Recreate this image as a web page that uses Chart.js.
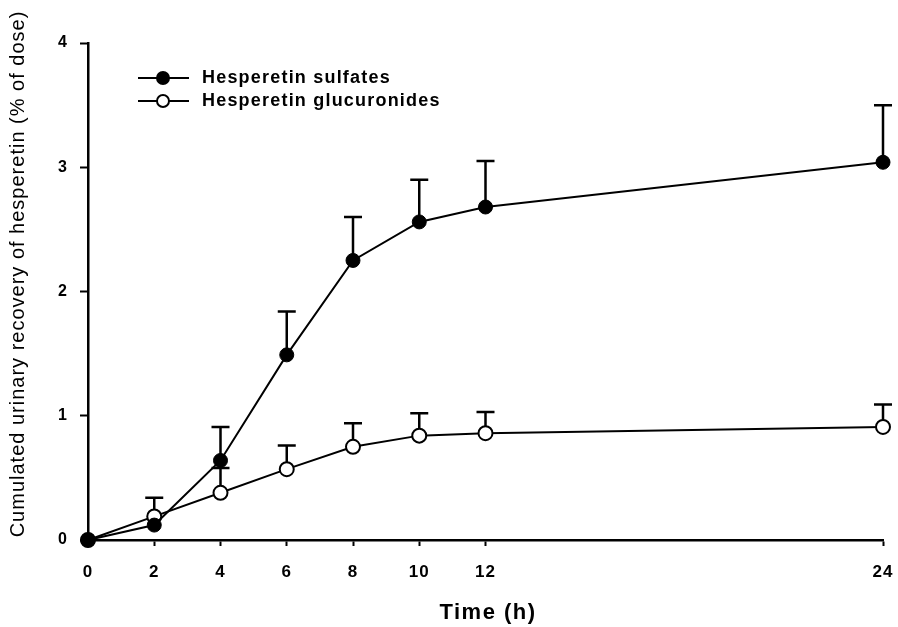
<!DOCTYPE html>
<html>
<head>
<meta charset="utf-8">
<script src="https://cdn.jsdelivr.net/npm/chart.js@4"></script>
<style>
  html, body { margin: 0; padding: 0; background: #fff; }
  #wrap { width: 898px; height: 627px; }
</style>
</head>
<body>
<div id="wrap"><canvas id="grafico" width="898" height="627"></canvas></div>
<script>
// time points (h)
const tempos = [0, 2, 4, 6, 8, 10, 12, 24];
const xTicks = [0, 2, 4, 6, 8, 10, 12, 24];
const yTicks = [0, 1, 2, 3, 4];

// mean values and upper SD limits
const sulfatos = [0, 0.12, 0.64, 1.49, 2.25, 2.56, 2.68, 3.04];
const sulfatosSD = [0, 0, 0.27, 0.35, 0.35, 0.34, 0.37, 0.46];
const glucuronideos = [0, 0.19, 0.38, 0.57, 0.75, 0.84, 0.86, 0.91];
const glucuronideosSD = [0, 0.15, 0.20, 0.19, 0.19, 0.18, 0.17, 0.18];

const tituloX = "Time (h)";
const tituloY = "Cumulated urinary recovery of hesperetin (% of dose)";

const fonte = "'Liberation Sans', Arial, sans-serif";

const espacamento = {
  id: "espacamento",
  beforeDraw(chart) {
    chart.ctx.letterSpacing = "1px";
  }
};

const errorBars = {
  id: "errorBars",
  beforeDatasetsDraw(chart) {
    const ctx = chart.ctx;
    const y = chart.scales.y;
    ctx.save();
    ctx.strokeStyle = "#000";
    ctx.lineWidth = 2.5;
    chart.data.datasets.forEach((ds, i) => {
      const meta = chart.getDatasetMeta(i);
      meta.data.forEach((pt, j) => {
        const sd = ds.sd[j];
        if (!sd) return;
        const yTop = y.getPixelForValue(ds.data[j].y + sd);
        ctx.beginPath();
        ctx.moveTo(pt.x, pt.y);
        ctx.lineTo(pt.x, yTop);
        ctx.moveTo(pt.x - 9, yTop);
        ctx.lineTo(pt.x + 9, yTop);
        ctx.stroke();
      });
    });
    ctx.restore();
  }
};

const textos = {
  id: "textos",
  afterDraw(chart) {
    const ctx = chart.ctx;
    ctx.save();
    ctx.fillStyle = "#000";
    ctx.letterSpacing = "1.2px";

    // legend inside the plot
    chart.data.datasets.forEach((ds, i) => {
      const yy = 78 + i * 23;
      ctx.strokeStyle = "#000";
      ctx.lineWidth = 2;
      ctx.beginPath();
      ctx.moveTo(138, yy);
      ctx.lineTo(189, yy);
      ctx.stroke();
      ctx.beginPath();
      ctx.arc(163, yy, 6, 0, Math.PI * 2);
      ctx.fillStyle = ds.pointBackgroundColor;
      ctx.fill();
      ctx.stroke();
      ctx.fillStyle = "#000";
      ctx.font = "bold 18px " + fonte;
      ctx.textBaseline = "middle";
      ctx.textAlign = "left";
      ctx.fillText(ds.label, 202, yy);
    });

    // x title
    ctx.letterSpacing = "1.5px";
    ctx.font = "bold 22px " + fonte;
    ctx.textAlign = "center";
    ctx.textBaseline = "middle";
    ctx.fillText(tituloX, 488, 613);

    // y title
    ctx.letterSpacing = "1px";
    ctx.font = "20px " + fonte;
    ctx.translate(18, 274);
    ctx.rotate(-Math.PI / 2);
    ctx.fillText(tituloY, 0, 0);
    ctx.restore();
  }
};

new Chart(document.getElementById("grafico").getContext("2d"), {
  type: "line",
  data: {
    datasets: [
      {
        label: "Hesperetin sulfates",
        data: tempos.map((t, i) => ({ x: t, y: sulfatos[i] })),
        sd: sulfatosSD,
        borderColor: "#000",
        borderWidth: 2,
        pointRadius: 7,
        pointBackgroundColor: "#000",
        pointBorderColor: "#000",
        pointBorderWidth: 1,
        tension: 0,
        clip: false
      },
      {
        label: "Hesperetin glucuronides",
        data: tempos.map((t, i) => ({ x: t, y: glucuronideos[i] })),
        sd: glucuronideosSD,
        borderColor: "#000",
        borderWidth: 2,
        pointRadius: 7,
        pointBackgroundColor: "#fff",
        pointBorderColor: "#000",
        pointBorderWidth: 2,
        tension: 0,
        clip: false
      }
    ]
  },
  options: {
    responsive: false,
    animation: false,
    layout: { padding: { top: 43, right: 15, left: 0, bottom: 0 } },
    plugins: {
      legend: { display: false },
      tooltip: { enabled: false }
    },
    scales: {
      x: {
        type: "linear",
        min: 0,
        max: 24,
        afterBuildTicks: axis => { axis.ticks = xTicks.map(v => ({ value: v })); },
        afterFit: axis => {
          axis.height = 87;
          axis.paddingRight = 0;
          axis.paddingLeft = 0;
        },
        grid: { drawOnChartArea: false, color: "#000", tickLength: 6, tickWidth: 2 },
        border: { color: "#000", width: 2.5 },
        ticks: { color: "#000", font: { family: fonte, size: 17, weight: "bold" }, padding: 16, maxRotation: 0 }
      },
      y: {
        min: 0,
        max: 4,
        afterBuildTicks: axis => { axis.ticks = yTicks.map(v => ({ value: v })); },
        afterFit: axis => { axis.width = 88; },
        grid: { drawOnChartArea: false, color: "#000", tickLength: 8, tickWidth: 2 },
        border: { color: "#000", width: 2.5 },
        ticks: { color: "#000", font: { family: fonte, size: 16, weight: "bold" }, padding: 12 }
      }
    }
  },
  plugins: [espacamento, errorBars, textos]
});
</script>
</body>
</html>
